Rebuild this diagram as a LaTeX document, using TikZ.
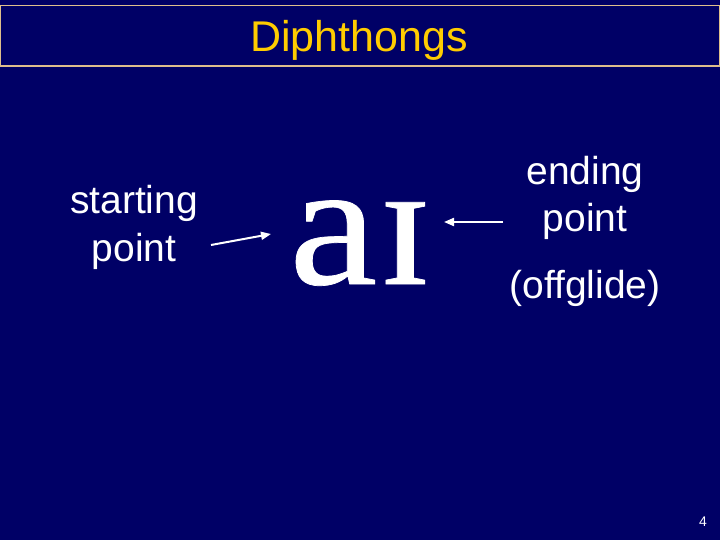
\documentclass[tikz,border=0pt]{standalone}
\usepackage{fontspec}
\setmainfont{Liberation Sans}
\newfontfamily\ipafont[FakeBold=0.4]{Liberation Serif}
\usetikzlibrary{arrows.meta}
\definecolor{bgnavy}{RGB}{0,0,102}
\definecolor{titlegold}{RGB}{255,204,0}
\definecolor{boxtan}{RGB}{222,190,140}
\tikzset{
  body/.style={text=white, inner sep=0pt, anchor=base, font=\fontsize{39}{47}\selectfont},
  arr/.style={draw=white, line width=2pt, -{Triangle[length=10pt,width=8pt]}},
}
\begin{document}
\begin{tikzpicture}[x=1pt,y=-1pt]
\fill[bgnavy] (0,0) rectangle (720,540);
\useasboundingbox (0,0) rectangle (720,540);
\draw[boxtan, line width=1.2pt] (0.6,5.5) rectangle (719.4,66);
\node[inner sep=0pt, anchor=base, text=titlegold, font=\fontsize{43}{50}\selectfont] (title) at (359,52) {Diphthongs};
\node[body] (start1) at (134,214) {starting};
\node[body] (start2) at (134,261) {point};
\node[inner sep=0pt, anchor=base, text=white, font=\ipafont\fontsize{178}{180}\selectfont, xscale=1.12] (ai) at (361,284) {aɪ};
\node[body] (end1) at (585,185) {ending};
\node[body] (end2) at (585,232) {point};
\node[body] (off) at (585,298) {(offglide)};
\node[inner sep=0pt, anchor=base, text=white, font=\fontsize{14}{16}\selectfont] (page) at (703,526) {4};
\coordinate (sa) at (211,245);
\coordinate (sb) at (271,234);
\coordinate (ea) at (503,222);
\coordinate (eb) at (444,222);
\draw[arr] (sa) -- (sb);
\draw[arr] (ea) -- (eb);
\end{tikzpicture}
\end{document}
